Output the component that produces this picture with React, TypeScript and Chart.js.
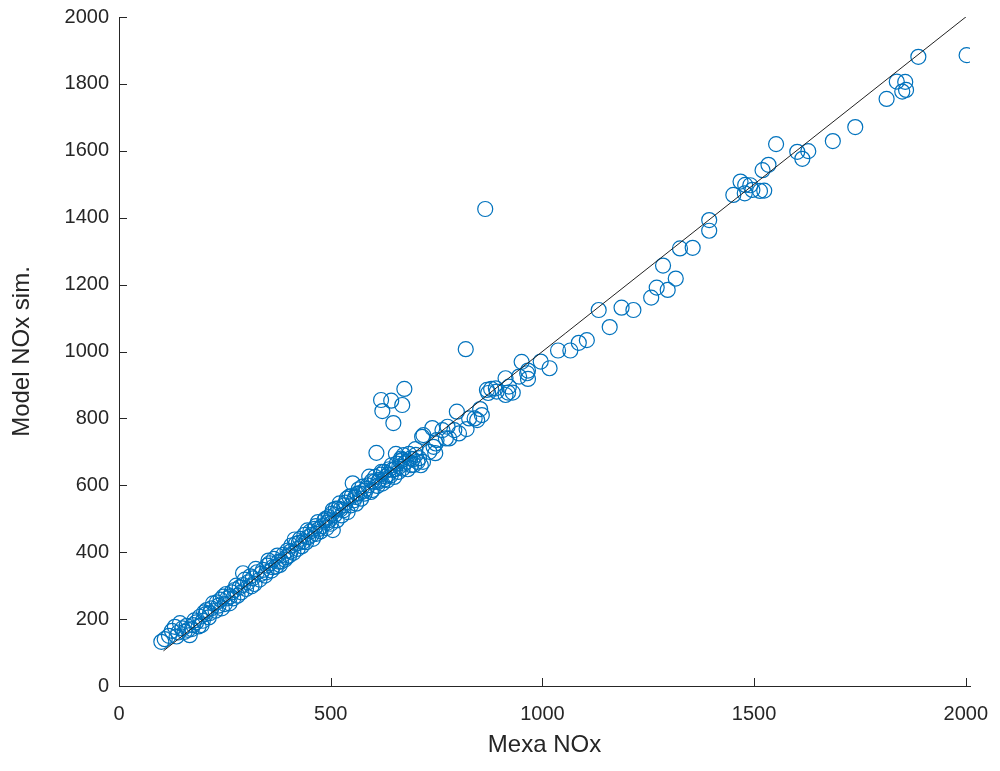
import React, { useEffect, useRef } from "react";
import { Chart, registerables } from "chart.js";

Chart.register(...registerables);

// Measured (Mexa) NOx values
const mexaNOx: number[] = [
  100, 108, 118, 125, 132, 136, 140, 144, 150, 155, 160, 163, 167, 172, 175, 178, 182, 188, 191, 195,
  198, 201, 205, 207, 212, 215, 218, 222, 228, 231, 235, 240, 243, 246, 250, 253, 256, 261, 263, 266,
  270, 273, 277, 280, 285, 289, 293, 293, 297, 300, 305, 310, 313, 316, 320, 323, 326, 332, 335, 340,
  345, 348, 350, 353, 356, 360, 363, 366, 371, 374, 377, 380, 383, 388, 392, 395, 398, 402, 405, 407,
  412, 415, 418, 422, 425, 428, 432, 435, 438, 442, 445, 447, 452, 455, 458, 462, 465, 466, 470, 473,
  476, 480, 485, 488, 490, 492, 495, 497, 500, 503, 505, 505, 510, 512, 514, 518, 521, 523, 526, 530,
  532, 535, 538, 540, 544, 548, 550, 552, 555, 558, 560, 563, 566, 568, 572, 575, 578, 580, 585, 588,
  591, 595, 597, 599, 603, 605, 608, 610, 612, 615, 618, 620, 622, 626, 628, 630, 634, 636, 638, 642,
  644, 646, 650, 652, 654, 656, 660, 662, 664, 666, 669, 670, 672, 674, 678, 682, 685, 688, 690, 694,
  697, 700, 701, 705, 709, 713, 718, 719,
  619, 643, 669, 622, 648, 674, 819, 865,
  716, 733, 740, 743, 747, 748, 750, 764, 772, 776, 780, 792, 798, 803, 821, 827, 840, 846, 853, 857,
  869, 872, 879, 890, 892, 913, 913, 919, 921, 930, 945, 951, 964, 966, 966, 996, 1017, 1037, 1066, 1086,
  1105, 1133, 1159, 1187, 1215, 1257, 1270, 1285, 1296, 1315, 1325, 1355, 1394, 1394, 1451, 1468, 1478, 1479, 1491, 1496,
  1514, 1524, 1520, 1534, 1552, 1602, 1614, 1628, 1686, 1739, 1813, 1837, 1850, 1857, 1859, 1888, 2002,
];

// Simulated (model) NOx values
const modelNOx: number[] = [
  132, 140, 150, 165, 177, 148, 160, 188, 172, 162, 180, 168, 152, 170, 182, 196, 190, 178, 207, 182,
  195, 220, 215, 227, 205, 218, 232, 247, 225, 250, 240, 258, 232, 267, 245, 275, 262, 247, 268, 280,
  262, 287, 300, 270, 295, 280, 302, 337, 318, 290, 310, 328, 298, 322, 305, 350, 340, 318, 335, 347,
  330, 340, 360, 375, 367, 345, 355, 380, 357, 390, 372, 362, 372, 392, 378, 385, 405, 390, 402, 420,
  398, 438, 425, 410, 428, 440, 418, 432, 452, 430, 465, 445, 462, 452, 440, 470, 478, 455, 490, 470,
  462, 478, 495, 500, 472, 488, 505, 496, 485, 515, 526, 466, 512, 530, 495, 530, 546, 528, 510, 525,
  540, 548, 560, 520, 566, 540, 568, 606, 555, 565, 545, 575, 588, 576, 560, 596, 583, 575, 590, 600,
  626, 580, 612, 586, 610, 625, 697, 598, 610, 616, 632, 640, 605, 640, 618, 626, 615, 632, 648, 630,
  660, 646, 625, 648, 694, 665, 640, 656, 672, 680, 676, 650, 690, 665, 670, 648, 694, 680, 660, 678,
  661, 708, 691, 670, 681, 660, 670, 750,
  855, 853, 840, 822, 786, 888, 1007, 1426,
  745, 700, 771, 715, 696, 725, 735, 765, 740, 775, 740, 765, 820, 755, 768, 800, 800, 795, 828, 810,
  885, 876, 888, 890, 880, 920, 870, 877, 895, 877, 925, 969, 935, 943, 918, 970, 950, 1003, 1003, 1026,
  1034, 1124, 1073, 1131, 1124, 1161, 1191, 1257, 1184, 1218, 1308, 1310, 1393, 1361, 1468, 1508, 1473, 1498, 1497, 1483,
  1480, 1481, 1542, 1558, 1620, 1597, 1576, 1599, 1629, 1671, 1755, 1807, 1777, 1806, 1782, 1881, 1886,
];

// 1:1 reference line ends
const refLine: number[] = [105, 2005];

const xTicks: number[] = [0, 500, 1000, 1500, 2000];
const yTicks: number[] = [0, 200, 400, 600, 800, 1000, 1200, 1400, 1600, 1800, 2000];

const AXIS_COLOR = "#262626";
const FONT = "'Liberation Sans', Arial, Helvetica, sans-serif";

const inwardTicks = {
  id: "inwardTicks",
  afterDraw(chart: any) {
    const ctx = chart.ctx;
    const xs = chart.scales.x;
    const ys = chart.scales.y;
    const len = 8;
    ctx.save();
    ctx.strokeStyle = AXIS_COLOR;
    ctx.lineWidth = 1;
    ctx.beginPath();
    xTicks.forEach((v) => {
      const px = Math.round(xs.getPixelForValue(v)) + 0.5;
      ctx.moveTo(px, ys.bottom);
      ctx.lineTo(px, ys.bottom - len);
    });
    yTicks.forEach((v) => {
      const py = Math.round(ys.getPixelForValue(v)) + 0.5;
      ctx.moveTo(xs.left, py);
      ctx.lineTo(xs.left + len, py);
    });
    ctx.stroke();
    ctx.restore();
  },
};

export default function App() {
  const ref = useRef<HTMLCanvasElement | null>(null);

  useEffect(() => {
    if (!ref.current) return;
    const points = mexaNOx.map((x, i) => ({ x, y: modelNOx[i] }));
    const line = refLine.map((v) => ({ x: v, y: v }));
    const chart = new Chart(ref.current, {
      type: "scatter",
      data: {
        datasets: [
          {
            type: "line",
            data: line,
            borderColor: "#222222",
            borderWidth: 1,
            pointRadius: 0,
            fill: false,
            order: 0,
          } as any,
          {
            data: points,
            pointStyle: "circle",
            pointRadius: 7.5,
            pointBorderWidth: 1.2,
            borderColor: "#0072BD",
            backgroundColor: "rgba(0,0,0,0)",
            order: 1,
          },
        ],
      },
      options: {
        animation: false,
        responsive: false,
        maintainAspectRatio: false,
        layout: { padding: { top: 17, right: 30, left: 0, bottom: 0 } },
        plugins: {
          legend: { display: false },
          tooltip: { enabled: false },
        },
        scales: {
          x: {
            type: "linear",
            min: 0,
            max: 2010,
            grid: { display: false, drawTicks: false },
            border: { display: true, color: AXIS_COLOR, width: 1 },
            afterBuildTicks: (s: any) => {
              s.ticks = xTicks.map((v) => ({ value: v }));
            },
            afterFit: (s: any) => {
              s.height = 85;
              s.paddingLeft = 0;
              s.paddingRight = 0;
            },
            ticks: {
              padding: 16,
              color: AXIS_COLOR,
              font: { family: FONT, size: 20 },
              maxRotation: 0,
              callback: (v: any) => String(v),
            },
            title: {
              display: true,
              text: "Mexa NOx",
              color: AXIS_COLOR,
              font: { family: FONT, size: 24 },
              padding: { top: 0, bottom: 11 },
            },
          },
          y: {
            type: "linear",
            min: 0,
            max: 2000,
            grid: { display: false, drawTicks: false },
            border: { display: true, color: AXIS_COLOR, width: 1 },
            afterBuildTicks: (s: any) => {
              s.ticks = yTicks.map((v) => ({ value: v }));
            },
            afterFit: (s: any) => {
              s.width = 119;
              s.paddingTop = 0;
              s.paddingBottom = 0;
            },
            ticks: {
              padding: 10,
              color: AXIS_COLOR,
              font: { family: FONT, size: 20 },
              callback: (v: any) => String(v),
            },
            title: {
              display: true,
              text: "Model NOx sim.",
              color: AXIS_COLOR,
              font: { family: FONT, size: 24 },
              padding: { top: 8, bottom: 0 },
            },
          },
        },
      },
      plugins: [inwardTicks],
    });
    return () => chart.destroy();
  }, []);

  return (
    <div style={{ position: "fixed", left: 0, top: 0, width: 1000, height: 771, background: "#fff" }}>
      <canvas ref={ref} width={1000} height={771} style={{ width: 1000, height: 771, display: "block" }} />
    </div>
  );
}
